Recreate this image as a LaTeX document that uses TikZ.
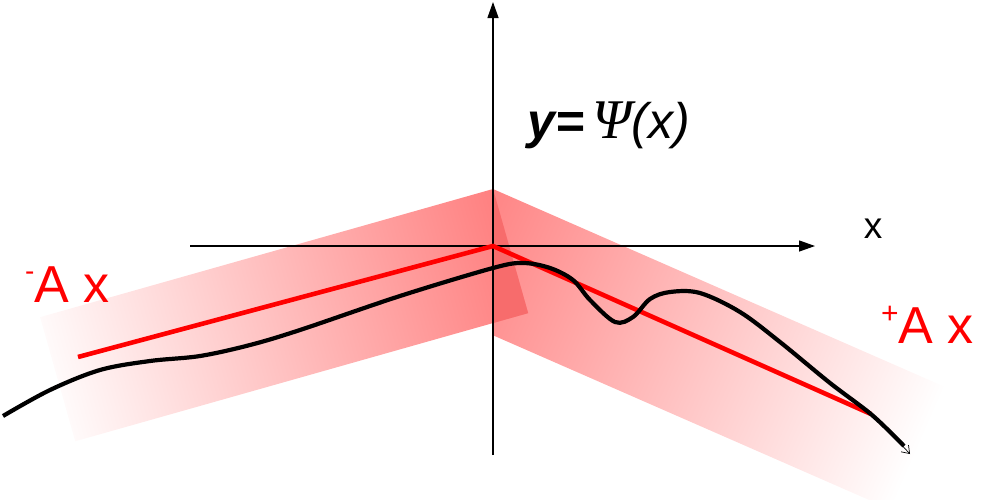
\documentclass[tikz,border=0pt]{standalone}
\usepackage{fontspec}
\setmainfont{Liberation Sans}
\newfontfamily\psifont{Liberation Serif}
\usetikzlibrary{arrows.meta}
\definecolor{bandpink}{RGB}{255,128,128}
\definecolor{bandover}{RGB}{247,108,108}
\definecolor{pred}{RGB}{255,0,0}
\tikzset{
  axisline/.style={line width=1.3pt,-{Triangle[length=16pt,width=11pt]}},
  redline/.style={pred,line width=4.6pt},
  curveline/.style={black,line width=4.2pt},
  lbl/.style={inner sep=0pt,anchor=base west},
}
\begin{document}
\begin{tikzpicture}[x=1pt,y=-1pt]
\useasboundingbox (0,0) rectangle (985,499);
\clip (0,0) rectangle (985,499);
% right band
\begin{scope}
  \clip (493,0) rectangle (985,499);
  \begin{scope}[transform canvas={shift={(493,189)},rotate=-23.65}]
    \shade[left color=bandpink,middle color=bandpink!62,right color=white] (-20,0) rectangle (493.5,134);
  \end{scope}
\end{scope}
% left band
\begin{scope}[transform canvas={shift={(493,189)},rotate=15.8}]
  \shade[left color=bandpink!4,right color=bandpink] (-470.7,0) rectangle (0,129);
\end{scope}
% overlap
\begin{scope}
  \clip (493,0) rectangle (985,499);
  \begin{scope}[transform canvas={shift={(493,189)},rotate=15.8}]
    \fill[bandover] (-200,0) rectangle (0,129);
  \end{scope}
\end{scope}
% axes
\coordinate (yb) at (493,455);
\coordinate (yt) at (493,2);
\coordinate (xl) at (190,246);
\coordinate (xr) at (815,246);
\draw[axisline] (yb) -- (yt);
\draw[axisline] (xl) -- (xr);
% red lines
\coordinate (rl) at (78,357);
\coordinate (o) at (493,246);
\coordinate (rr) at (871,414);
\draw[redline] (rl) -- (o) -- (rr);
% black curve
\draw[curveline] plot[smooth,tension=0.55] coordinates {
(3,416) (50,390) (100,370) (150,361) (200,356) (250,345) (300,330) (400,296)
(493,268) (523,263) (550,268) (573,280) (590,300) (615,322) (633,317) (650,299)
(670,292) (700,293) (740,312) (780,342) (830,383) (872,415) (904,446)};
\coordinate (a1) at (897,440);
\coordinate (a2) at (910,454);
\draw[line width=0.7pt,-{Straight Barb[length=7pt,width=10pt]}] (a1) -- (a2);
% labels
\node[lbl] (psi) at (527,138) {\fontsize{50}{50}\selectfont\bfseries\itshape y=\,{\mdseries\fontsize{56}{56}\selectfont\psifont Ψ}{\mdseries(x)}};
\node[lbl,anchor=base] (xlab) at (873,238) {\fontsize{37}{37}\selectfont x};
\node[lbl,text=pred] (am) at (25,302) {\fontsize{52}{52}\selectfont\raisebox{0.42em}{\fontsize{28}{28}\selectfont -}A x};
\node[lbl,text=pred] (ap) at (881,343) {\fontsize{52}{52}\selectfont\raisebox{0.38em}{\fontsize{30}{30}\selectfont +}A x};
\end{tikzpicture}
\end{document}
